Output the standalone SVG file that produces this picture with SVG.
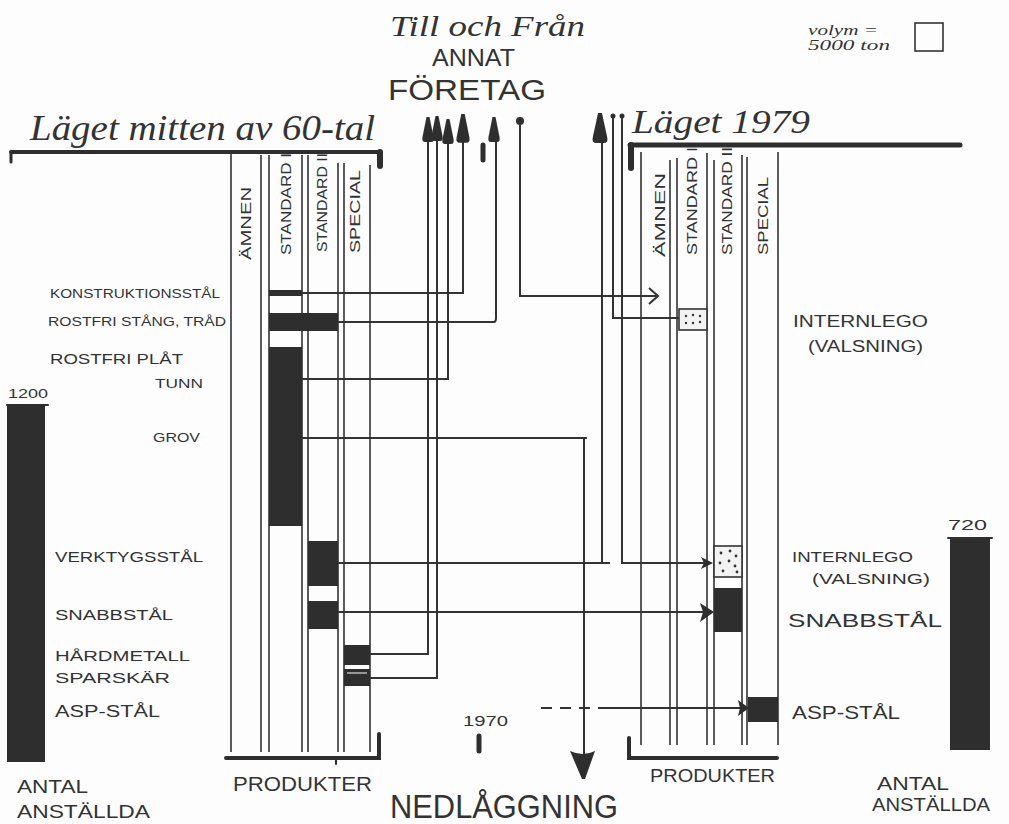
<svg xmlns="http://www.w3.org/2000/svg" width="1009" height="824" viewBox="0 0 1009 824">
<defs>
<style>
.ln{stroke:#333;stroke-width:1.6;fill:none}
.cn{stroke:#333;stroke-width:2;fill:none}
.bar{fill:#2e2e2e}
.hv{stroke:#2e2e2e;fill:none;stroke-linecap:round}
.t{font-family:"Liberation Sans",Arial,sans-serif;fill:#333}
.s{font-family:"Liberation Serif","Times New Roman",serif;font-style:italic;fill:#333}
.dot{fill:#f3f3f3;stroke:#333;stroke-width:1.6}
</style>
<path id="ah" d="M-1.5,0 L1.5,0 L5.5,20 Q6.5,25 3,25 L-3,25 Q-6.5,25 -5.5,20 Z" fill="#2e2e2e"/>
</defs>
<rect width="1009" height="824" fill="#fdfdfd"/>

<!-- titles -->
<g id="title">
<text class="s" x="390" y="36" font-size="30" textLength="195" lengthAdjust="spacingAndGlyphs">Till och Från</text>
<text class="t" x="432" y="66" font-size="23" textLength="83" lengthAdjust="spacingAndGlyphs">ANNAT</text>
<text class="t" x="388" y="100" font-size="29" textLength="158" lengthAdjust="spacingAndGlyphs">FÖRETAG</text>
</g>
<g id="legend">
<text class="s" x="808" y="35" font-size="14" textLength="70" lengthAdjust="spacingAndGlyphs">volym =</text>
<text class="s" x="808" y="50" font-size="14" textLength="82" lengthAdjust="spacingAndGlyphs">5000 ton</text>
<rect x="915" y="23" width="28" height="28" fill="none" stroke="#333" stroke-width="1.6"/>
</g>

<!-- left panel frame -->
<g id="left-panel">
<text class="s" x="30" y="140" font-size="36" textLength="345" lengthAdjust="spacingAndGlyphs">Läget mitten av 60-tal</text>
<path class="hv" d="M11,152 H380" stroke-width="4"/>
<path class="hv" d="M11,152 V162" stroke-width="3"/>
<path class="hv" d="M380,152 V166" stroke-width="6"/>
<path class="hv" d="M226,758 H379 V734" stroke-width="4"/>
<path class="hv" d="M336,758 V764" stroke-width="2"/>
<path class="ln" d="M231,153 V752 M261,155 V752 M269,155 V752 M302,155 V752 M308,155 V752 M338,163 V752 M344,163 V752 M370,165 V752"/>
<text class="t" font-size="15" transform="translate(251,260) rotate(-90)" textLength="73" lengthAdjust="spacingAndGlyphs">ÄMNEN</text>
<text class="t" font-size="14" transform="translate(291,255) rotate(-90)" textLength="102" lengthAdjust="spacingAndGlyphs">STANDARD I</text>
<text class="t" font-size="14" transform="translate(327,252) rotate(-90)" textLength="99" lengthAdjust="spacingAndGlyphs">STANDARD II</text>
<text class="t" font-size="14" transform="translate(360,253) rotate(-90)" textLength="83" lengthAdjust="spacingAndGlyphs">SPECIAL</text>
<text class="t" x="233" y="791" font-size="20" textLength="139" lengthAdjust="spacingAndGlyphs">PRODUKTER</text>
</g>

<g id="left-employees">
<text class="t" x="8" y="398" font-size="13" textLength="40" lengthAdjust="spacingAndGlyphs">1200</text>
<rect class="bar" x="7" y="405" width="38" height="357"/>
<path class="hv" d="M7,405 H48" stroke-width="2"/>
<text class="t" x="17" y="793" font-size="19" textLength="71" lengthAdjust="spacingAndGlyphs">ANTAL</text>
<text class="t" x="17" y="818" font-size="19" textLength="133" lengthAdjust="spacingAndGlyphs">ANSTÄLLDA</text>
</g>

<g id="n-konstruktionsstal">
<rect class="bar" x="269" y="290" width="33" height="6"/>
<text class="t" x="50" y="298" font-size="13" textLength="170" lengthAdjust="spacingAndGlyphs">KONSTRUKTIONSSTÅL</text>
</g>
<g id="n-rostfri-stang">
<rect class="bar" x="269" y="313" width="69" height="18"/>
<text class="t" x="48" y="326" font-size="13" textLength="178" lengthAdjust="spacingAndGlyphs">ROSTFRI STÅNG, TRÅD</text>
</g>
<g id="n-rostfri-plat">
<rect class="bar" x="269" y="347" width="33" height="179"/>
<text class="t" x="50" y="364" font-size="14" textLength="133" lengthAdjust="spacingAndGlyphs">ROSTFRI PLÅT</text>
<text class="t" x="155" y="388" font-size="13" textLength="48" lengthAdjust="spacingAndGlyphs">TUNN</text>
<text class="t" x="153" y="442" font-size="13" textLength="47" lengthAdjust="spacingAndGlyphs">GROV</text>
</g>
<g id="n-verktygsstal">
<rect class="bar" x="308" y="541" width="30" height="45"/>
<text class="t" x="55" y="562" font-size="14" textLength="148" lengthAdjust="spacingAndGlyphs">VERKTYGSSTÅL</text>
</g>
<g id="n-snabbstal">
<rect class="bar" x="308" y="601" width="30" height="28"/>
<text class="t" x="55" y="620" font-size="14" textLength="118" lengthAdjust="spacingAndGlyphs">SNABBSTÅL</text>
</g>
<g id="n-hardmetall">
<rect class="bar" x="344" y="645" width="26" height="20"/>
<text class="t" x="55" y="661" font-size="14" textLength="135" lengthAdjust="spacingAndGlyphs">HÅRDMETALL</text>
</g>
<g id="n-sparskar">
<rect class="bar" x="344" y="669" width="26" height="17"/>
<path d="M347,673 H367" stroke="#ddd" stroke-width="1.2"/>
<text class="t" x="55" y="683" font-size="14" textLength="115" lengthAdjust="spacingAndGlyphs">SPARSKÄR</text>
</g>
<g id="n-asp-left">
<text class="t" x="55" y="717" font-size="16" textLength="105" lengthAdjust="spacingAndGlyphs">ASP-STÅL</text>
</g>

<!-- right panel -->
<g id="right-panel">
<text class="s" x="632" y="133" font-size="34" textLength="178" lengthAdjust="spacingAndGlyphs">Läget   1979</text>
<path class="hv" d="M630,145 H960" stroke-width="5"/>
<path class="hv" d="M631,145 V168" stroke-width="6"/>
<path class="hv" d="M629,738 V758 H777" stroke-width="4"/>
<path class="ln" d="M641,152 V745 M670,160 V745 M677,158 V745 M707,153 V745 M714,160 V745 M742,155 V745 M747,157 V745 M778,152 V745"/>
<text class="t" font-size="14" transform="translate(665,257) rotate(-90)" textLength="84" lengthAdjust="spacingAndGlyphs">ÄMNEN</text>
<text class="t" font-size="14" transform="translate(697,255) rotate(-90)" textLength="108" lengthAdjust="spacingAndGlyphs">STANDARD I</text>
<text class="t" font-size="14" transform="translate(732,255) rotate(-90)" textLength="108" lengthAdjust="spacingAndGlyphs">STANDARD II</text>
<text class="t" font-size="14" transform="translate(768,255) rotate(-90)" textLength="78" lengthAdjust="spacingAndGlyphs">SPECIAL</text>
<text class="t" x="650" y="782" font-size="19" textLength="125" lengthAdjust="spacingAndGlyphs">PRODUKTER</text>
</g>

<g id="right-employees">
<text class="t" x="948" y="530" font-size="14" textLength="39" lengthAdjust="spacingAndGlyphs">720</text>
<rect class="bar" x="950" y="537" width="40" height="213"/>
<path class="hv" d="M948,538 H992" stroke-width="2"/>
<text class="t" x="877" y="790" font-size="18" textLength="72" lengthAdjust="spacingAndGlyphs">ANTAL</text>
<text class="t" x="872" y="811" font-size="18" textLength="118" lengthAdjust="spacingAndGlyphs">ANSTÄLLDA</text>
</g>

<g id="n-internlego-1">
<rect class="dot" x="679" y="309" width="28" height="21"/>
<g fill="#333"><circle cx="686" cy="316" r="1.2"/><circle cx="693" cy="315" r="1.2"/><circle cx="700" cy="316" r="1.2"/><circle cx="686" cy="323" r="1.2"/><circle cx="693" cy="323" r="1.2"/><circle cx="700" cy="322" r="1.2"/></g>
<text class="t" x="793" y="327" font-size="16" textLength="135" lengthAdjust="spacingAndGlyphs">INTERNLEGO</text>
<text class="t" x="808" y="352" font-size="16" textLength="115" lengthAdjust="spacingAndGlyphs">(VALSNING)</text>
</g>
<g id="n-internlego-2">
<rect class="dot" x="714" y="546" width="28" height="31"/>
<g fill="#333"><circle cx="721" cy="553" r="1.4"/><circle cx="730" cy="551" r="1.4"/><circle cx="736" cy="556" r="1.4"/><circle cx="720" cy="563" r="1.4"/><circle cx="729" cy="561" r="1.4"/><circle cx="735" cy="566" r="1.4"/><circle cx="723" cy="571" r="1.4"/><circle cx="737" cy="572" r="1.4"/></g>
<text class="t" x="792" y="562" font-size="15" textLength="121" lengthAdjust="spacingAndGlyphs">INTERNLEGO</text>
<text class="t" x="812" y="584" font-size="15" textLength="118" lengthAdjust="spacingAndGlyphs">(VALSNING)</text>
</g>
<g id="n-snabbstal-right">
<rect class="bar" x="714" y="588" width="28" height="44"/>
<text class="t" x="788" y="627" font-size="19" textLength="154" lengthAdjust="spacingAndGlyphs">SNABBSTÅL</text>
</g>
<g id="n-asp-right">
<rect class="bar" x="748" y="697" width="30" height="25"/>
<text class="t" x="792" y="719" font-size="19" textLength="108" lengthAdjust="spacingAndGlyphs">ASP-STÅL</text>
</g>

<g id="n-nedlaggning">
<text class="t" x="390" y="818" font-size="33" textLength="228" lengthAdjust="spacingAndGlyphs">NEDLÅGGNING</text>
</g>
<g id="n-1970">
<text class="t" x="463" y="726" font-size="14" textLength="45" lengthAdjust="spacingAndGlyphs">1970</text>
<path class="hv" d="M479,736 V751" stroke-width="5"/>
<path class="hv" d="M483,145 V160" stroke-width="5"/>
</g>

<!-- connectors -->
<g id="connectors">
<path class="cn" d="M370,654 H428 V140"/>
<path class="cn" d="M370,678 H437 V140"/>
<path class="cn" d="M302,379 H448 V140"/>
<path class="cn" d="M302,293 H463 V140"/>
<path class="cn" d="M338,322 H494 Q496,322 496,318 V140"/>
<path class="cn" d="M520,121 V296 H657"/>
<path class="cn" d="M649,288 L658,296 L649,304" stroke-width="2.4"/>
<circle cx="520" cy="121" r="4" fill="#2e2e2e"/>
<path class="cn" d="M302,438 H587 M584,438 V756"/>
<path d="M570,751 Q583,757 595,751 L585,779 L582,779 Z" fill="#2e2e2e"/>
<path class="cn" d="M338,563 H610 M602,563 V140"/>
<path class="cn" d="M613,116 V318 H679"/>
<circle cx="613" cy="116" r="2.5" fill="#2e2e2e"/>
<path class="cn" d="M622,116 V563 H708"/>
<circle cx="622" cy="116" r="2.5" fill="#2e2e2e"/>
<path d="M701,557 L713,563 L701,569 L704,563 Z" fill="#2e2e2e"/>
<path class="cn" d="M338,612 H706"/>
<path d="M700,603 L714,612 L700,622 L703,612 Z" fill="#2e2e2e"/>
<path class="cn" d="M541,708 H600" stroke-dasharray="11,8"/>
<path class="cn" d="M600,708 H742"/>
<path d="M738,700 L749,708 L738,716 L740,708 Z" fill="#2e2e2e"/>
<use href="#ah" transform="translate(428,117)"/>
<use href="#ah" transform="translate(437,116)"/>
<use href="#ah" transform="translate(448,119)"/>
<use href="#ah" transform="translate(463,114) scale(1.15)"/>
<use href="#ah" transform="translate(494,117)"/>
<use href="#ah" transform="translate(600,113) scale(1.3,1.2)"/>
</g>
</svg>
